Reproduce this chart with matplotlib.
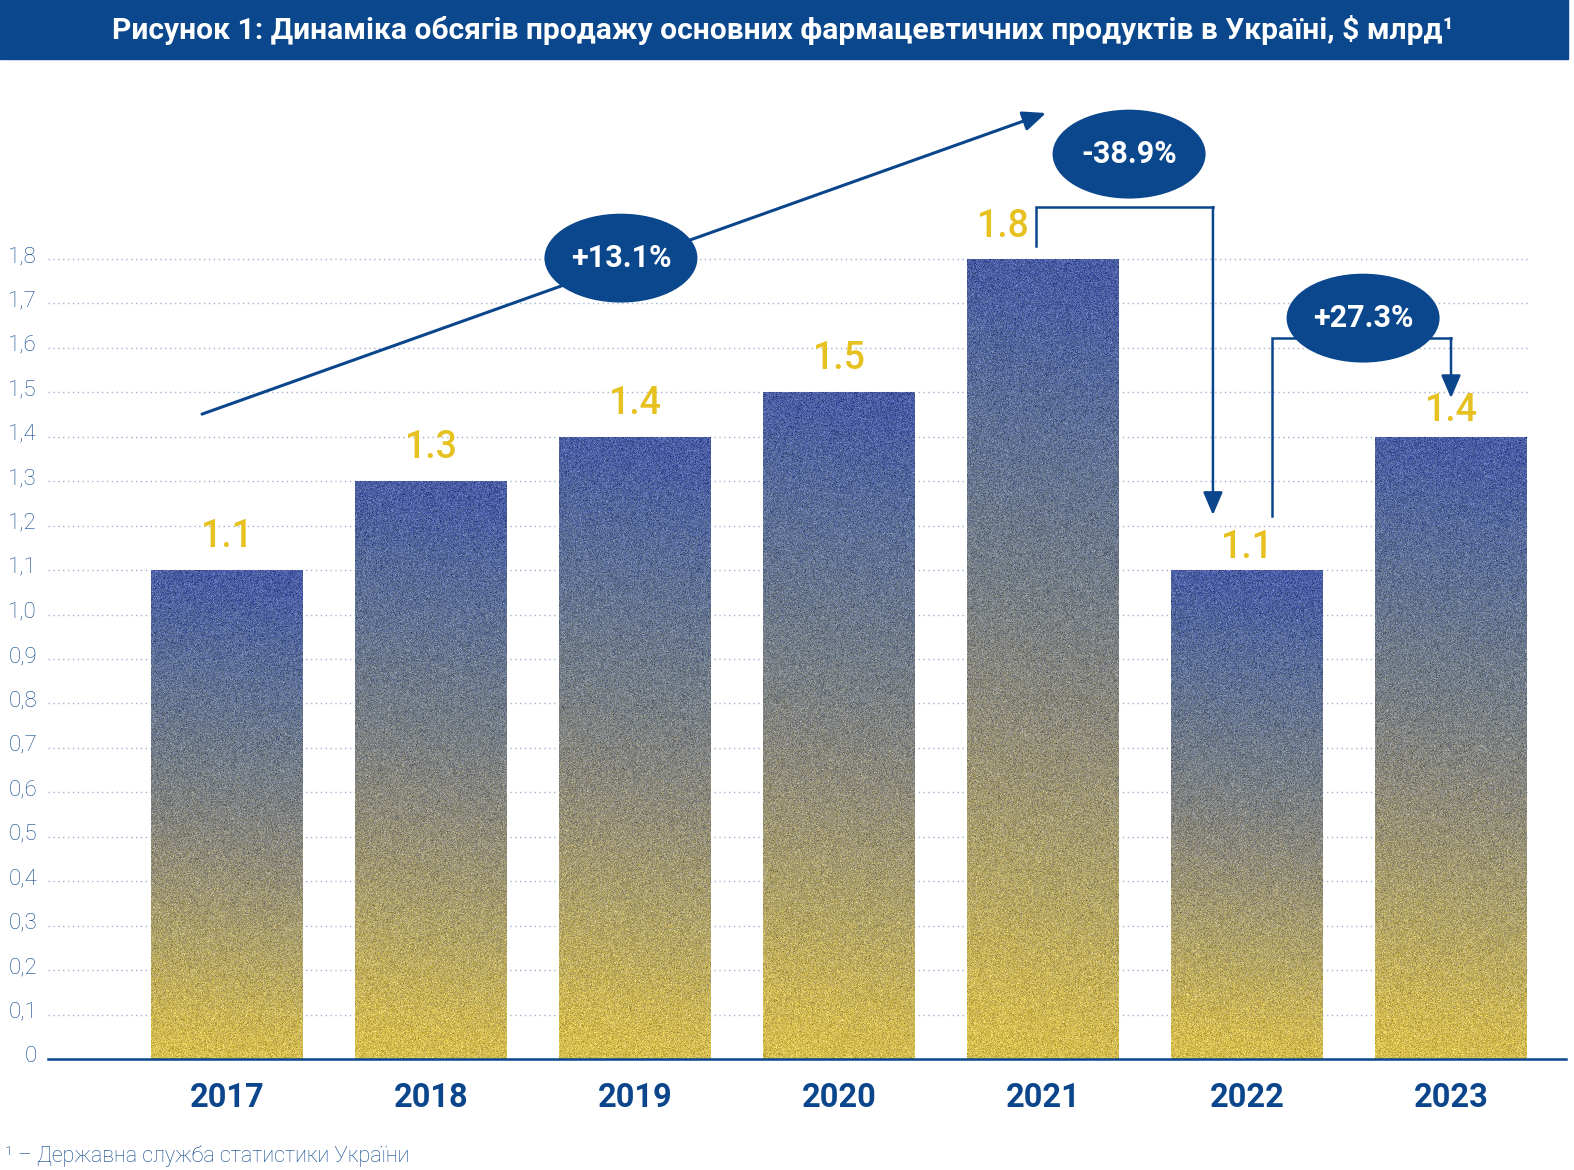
import numpy as np
import matplotlib
matplotlib.use('Agg')
import matplotlib.pyplot as plt
from matplotlib.patches import Ellipse, Rectangle
from matplotlib.colors import LinearSegmentedColormap
import matplotlib.transforms as mtransforms

# ---------------- data ----------------
years = ['2017', '2018', '2019', '2020', '2021', '2022', '2023']
sales = [1.1, 1.3, 1.4, 1.5, 1.8, 1.1, 1.4]
value_labels = ['1.1', '1.3', '1.4', '1.5', '1.8', '1.1', '1.4']
yticks = [0, 0.1, 0.2, 0.3, 0.4, 0.5, 0.6, 0.7, 0.8, 0.9, 1.0, 1.1, 1.2, 1.3, 1.4, 1.5, 1.6, 1.7, 1.8]
ytick_labels = ['0', '0,1', '0,2', '0,3', '0,4', '0,5', '0,6', '0,7', '0,8', '0,9', '1,0',
                '1,1', '1,2', '1,3', '1,4', '1,5', '1,6', '1,7', '1,8']
changes = ['+13.1%', '-38.9%', '+27.3%']
title = 'Рисунок 1: Динаміка обсягів продажу основних фармацевтичних продуктів в Україні, $ млрд¹'
footnote = '¹ – Державна служба статистики України'

# ---------------- style ----------------
plt.rcParams['font.family'] = ['Roboto', 'DejaVu Sans']
BLUE = '#0b468c'
YELLOW = '#e6c120'
GRID = '#9fb3d1'

W, H = 1574, 1170
fig = plt.figure(figsize=(W / 100, H / 100), dpi=100)
fig.patch.set_facecolor('white')

PX_PER_UNIT = 444.44
ax = fig.add_axes([48 / W, 111 / H, 1518 / W, 2.2 * PX_PER_UNIT / H])
ax.set_xlim(-0.8775, 6.5637)
ax.set_ylim(0, 2.2)

# banner
fig.patches.append(Rectangle((0, (H - 59) / H), 1568 / W, 59 / H,
                             transform=fig.transFigure, color='#0a478c', zorder=0))
fig.text(783 / W, (H - 30) / H, title, ha='center', va='center', color='white',
         fontsize=21.6, fontweight='bold')

# grid
ax.hlines(yticks[1:], -0.8775, 6.377, colors=GRID, linestyles=(0, (1, 2.5)), lw=1, zorder=1)

# bars with gradient texture
def c(r, g, b):
    return (r / 255, g / 255, b / 255)

cmap = LinearSegmentedColormap.from_list('uay', [
    (0.0, c(218, 192, 76)),
    (0.25, c(172, 160, 108)),
    (0.45, c(137, 135, 126)),
    (0.62, c(114, 124, 136)),
    (0.82, c(90, 110, 152)),
    (1.0, c(70, 90, 165)),
])
rng = np.random.default_rng(7)
bw = 0.745
bars = ax.bar(range(len(sales)), sales, width=bw, color='#8a8a86', zorder=2, linewidth=0)
for i, (b, v) in enumerate(zip(bars, sales)):
    rows = int(round(v * PX_PER_UNIT))
    cols = 152
    ty = np.linspace(0, 1, rows)[:, None]
    tx = np.linspace(0, 1, cols)[None, :]
    t = np.clip(ty + 0.04 * (tx - 0.5), 0, 1)
    tn = np.clip(t + rng.normal(0, 0.05, size=t.shape), 0, 1)
    img = cmap(tn)[..., :3]
    lum = rng.normal(0.0, 0.065, size=(rows, cols, 1))
    img = img + lum
    img = np.clip(img, 0, 1)
    im = ax.imshow(img, extent=[i - bw / 2, i + bw / 2, 0, v], origin='lower',
                   aspect='auto', interpolation='nearest', zorder=2.5)
    im.set_clip_path(b)
ax.set_xlim(-0.8775, 6.5637)
ax.set_ylim(0, 2.2)

# value labels
pads = [23, 23, 23, 23, 22, 12, 16]
xshift = [0, 0, 0, 0, -0.196, 0, 0]
for i, (v, lab) in enumerate(zip(sales, value_labels)):
    ax.text(i + xshift[i], v + pads[i] / PX_PER_UNIT, lab, ha='center', va='baseline',
            color=YELLOW, fontsize=27, fontweight='medium', zorder=6)

# x labels
for i, yr in enumerate(years):
    ax.text(i, -48 / PX_PER_UNIT, yr, ha='center', va='baseline', color=BLUE,
            fontsize=23.5, fontweight='bold', clip_on=False)
ax.set_xticks([])

# y ticks
ax.set_yticks(yticks)
ax.set_yticklabels(ytick_labels, fontsize=16, color=BLUE, fontweight='light')
ax.tick_params(axis='y', length=0, pad=8)
off = mtransforms.ScaledTranslation(0, 5 / 100, fig.dpi_scale_trans)
for lbl in ax.get_yticklabels():
    lbl.set_transform(lbl.get_transform() + off)

for s in ['left', 'right', 'top']:
    ax.spines[s].set_visible(False)
ax.spines['bottom'].set_color(BLUE)
ax.spines['bottom'].set_linewidth(1.8)
ax.spines['bottom'].set_zorder(7)
ax.set_facecolor('none')

# annotations
arrow_kw = dict(arrowstyle='-|>,head_length=0.7,head_width=0.3', mutation_scale=20,
                color=BLUE, shrinkA=0, shrinkB=0)
ax.annotate('', xy=(4.015, 2.1285), xytext=(-0.1225, 1.451),
            arrowprops=dict(lw=2.2, **arrow_kw), zorder=3, annotation_clip=False)

ax.plot([3.966, 3.966, 4.833], [1.829, 1.917, 1.917], color=BLUE, lw=1.8,
        solid_capstyle='projecting', solid_joinstyle='miter', zorder=3, clip_on=False)
ax.annotate('', xy=(4.833, 1.224), xytext=(4.833, 1.917),
            arrowprops=dict(lw=1.8, **arrow_kw), zorder=3)

ax.plot([5.123, 5.123, 6.0], [1.222, 1.622, 1.622], color=BLUE, lw=1.8,
        solid_capstyle='projecting', solid_joinstyle='miter', zorder=3)
ax.annotate('', xy=(6.0, 1.487), xytext=(6.0, 1.622),
            arrowprops=dict(lw=1.8, **arrow_kw), zorder=3)

ell_centers = [(1.931, 1.802), (4.422, 2.036), (5.569, 1.667)]
for (cx, cy), txt in zip(ell_centers, changes):
    e = Ellipse((cx, cy), 0.75, 0.2, facecolor='#0a478c', edgecolor='none', zorder=4,
                clip_on=False)
    ax.add_patch(e)
    ax.text(cx, cy, txt, ha='center', va='center', color='white', fontsize=22,
            fontweight='bold', zorder=5, clip_on=False)

# footnote
fig.text(5 / W, (H - 1156) / H, footnote, ha='left', va='center', color=BLUE,
         fontsize=15.5, fontweight='light')

fig.savefig('out.png', dpi=100)
